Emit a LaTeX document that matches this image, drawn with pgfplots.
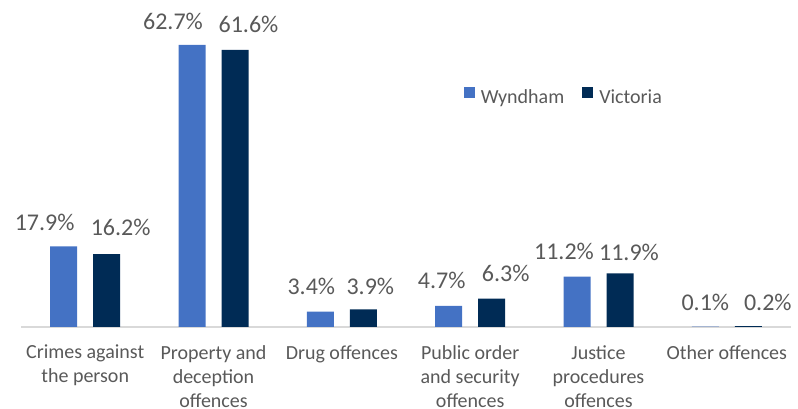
\documentclass[border=0pt]{standalone}
\usepackage{pgfplots}
\pgfplotsset{compat=1.18}
\usepackage{fontspec}
\setmainfont{Carlito}
\definecolor{wyn}{HTML}{4472C4}
\definecolor{vic}{HTML}{002B55}
\definecolor{txt}{HTML}{595959}
\definecolor{axl}{HTML}{D9D9D9}
\begin{document}
\begin{tikzpicture}
\begin{axis}[
  at={(0,0)}, anchor=south west,
  scale only axis, width=770pt, height=315pt,
  xmin=-0.5, xmax=5.5, ymin=0, ymax=70,
  ybar=16pt, bar width=27pt,
  axis x line*=bottom, axis y line=none,
  x axis line style={draw=axl, line width=1.3pt, -},
  xtick={0,1,2,3,4,5},
  xticklabels={{Crimes against\\the person},{Property and\\deception\\offences},{Drug offences},{Public order\\and security\\offences},{Justice\\procedures\\offences},{Other offences}},
  major tick length=0pt,
  xticklabel style={font=\fontsize{20}{24}\selectfont, text=txt, align=center, anchor=north, inner sep=0pt, yshift=-18pt},
  /pgf/number format/assume math mode=true,
  nodes near coords={\pgfmathprintnumber[fixed,fixed zerofill,precision=1]{\pgfplotspointmeta}\%},
  every node near coord/.append style={font=\fontsize{24}{28}\selectfont, text=txt, anchor=base, inner sep=0pt, xshift=\dx pt, yshift=\dy pt},
  visualization depends on={\thisrow{dx} \as \dx},
  visualization depends on={\thisrow{dy} \as \dy},
  legend columns=2,
  legend style={at={(0.571,0.73)}, anchor=west, draw=none, fill=none, font=\fontsize{20}{24}\selectfont, text=txt,
    /tikz/every odd column/.append style={column sep=4pt},
    /tikz/every even column/.append style={column sep=16pt}},
  legend image code/.code={\fill[#1] (0pt,0pt) rectangle (11pt,11pt);},
]
\addplot[fill=wyn, draw=none] table {
x y dx dy
0 17.9 -19 16
1 62.7 -19 15
2 3.4 -9 17
3 4.7 -7 17
4 11.2 -13 17
5 0.1 0 16
};
\addplot[fill=vic, draw=none] table {
x y dx dy
0 16.2 14 19
1 61.6 13.5 17
2 3.9 7 15
3 6.3 14 17
4 11.9 9 13
5 0.2 19.5 16
};
\legend{Wyndham, Victoria}
\end{axis}
\pgfresetboundingbox
\useasboundingbox (-21pt,-82pt) rectangle (777pt,327pt);
\end{tikzpicture}
\end{document}
